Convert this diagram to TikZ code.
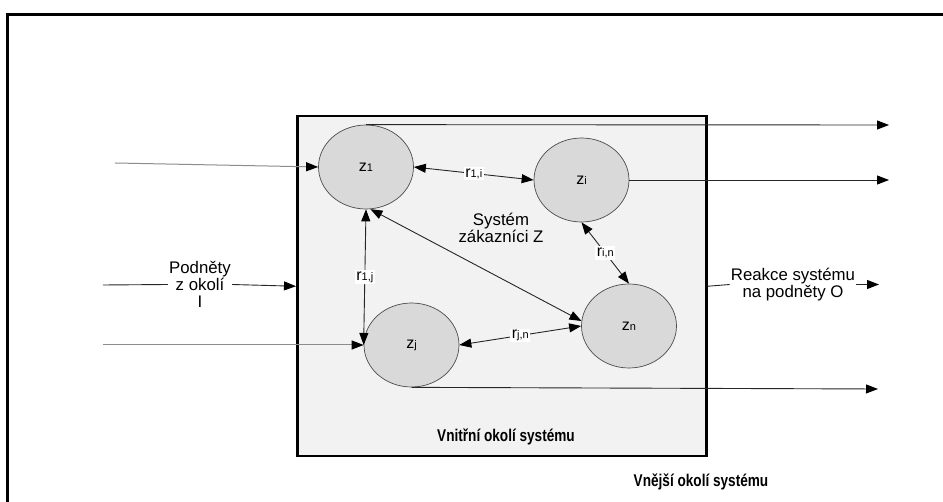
\documentclass[tikz,border=0pt]{standalone}
\usepackage{fontspec}
\setmainfont{Liberation Sans}
\newfontfamily\narrowfont[FakeStretch=0.8]{Liberation Sans}
\usetikzlibrary{arrows.meta,shapes.geometric}
\definecolor{boxfill}{HTML}{F2F2F2}
\definecolor{agentfill}{HTML}{D9D9D9}
\definecolor{feedline}{HTML}{8C8C8C}
\newcommand{\agentlabel}[2]{\fontsize{16}{16}\selectfont #1{\fontsize{11}{11}\selectfont #2}}
\newcommand{\rellabel}[2]{\fontsize{16}{16}\selectfont #1{\fontsize{11}{11}\selectfont #2}}
\begin{document}
\begin{tikzpicture}[x=1pt,y=-1pt,
  tip/.style={-{Triangle[length=12pt,width=9pt,color=black]}},
  bitip/.style={{Triangle[length=12pt,width=9pt,color=black]}-{Triangle[length=12pt,width=9pt,color=black]}},
  conn/.style={draw=black!85, line width=0.9pt},
  feed/.style={draw=feedline, line width=1pt},
  agent/.style={ellipse, draw=black!70, line width=0.7pt, fill=agentfill,
    minimum width=95pt, minimum height=84pt, inner sep=0pt},
  rel/.style={fill=white, inner sep=1.5pt},
  plain/.style={font=\fontsize{16.8}{16.8}\selectfont, align=center, inner sep=1pt},
  boldnote/.style={font=\narrowfont\bfseries\fontsize{17}{17}\selectfont, inner sep=0pt}]
\useasboundingbox (0,0) rectangle (943,502);

% outer surroundings frame (continues past the right and bottom edges)
\draw[line width=3pt] (7,502) -- (7,15) -- (943,15);

% inner surroundings box
\node[draw, line width=2.5pt, fill=boxfill, minimum width=409pt, minimum height=340pt,
  anchor=north west, inner sep=0pt] (inner) at (296,115) {};

% customers
\node[agent] (z1) at (366,167) {\agentlabel{z}{1}};
\node[agent] (zi) at (581.5,180) {\agentlabel{z}{i}};
\node[agent] (zj) at (411.5,345) {\agentlabel{z}{j}};
\node[agent] (zn) at (629,326) {\agentlabel{z}{n}};

\node[plain] (sys) at (501,228) {Systém\\zákazníci Z};
\node[boldnote] (vnitrni) at (506,437) {Vnitřní okolí systému};
\node[boldnote] (vnejsi) at (701,482) {Vnější okolí systému};

% relations between customers
\draw[conn,bitip] (z1.east) -- node[rel] {\rellabel{r}{1,i}} (zi.west);
\draw[conn,bitip] (z1.south) -- node[rel] {\rellabel{r}{1,j}} (zj.west);
\draw[conn,bitip] (z1.-84) -- (zn.174);
\draw[conn,bitip] (zi.south) -- node[rel] {\rellabel{r}{i,n}} (zn.north);
\draw[conn,bitip] (zj.east) -- node[rel] {\rellabel{r}{j,n}} (zn.west);

% stimuli from the surroundings
\coordinate (in1) at (115,163);
\coordinate (in2) at (103,285);
\coordinate (in3) at (103,345);
\node[plain] (podnety) at (200,284.5) {Podněty\\z okolí\\I};
\draw[feed,tip] (in1) -- (z1.west);
\draw[conn] (in2) -- (podnety.west);
\draw[conn,tip] (podnety.east) -- (inner.west);
\draw[feed,tip] (in3) -- (zj.west);

% reactions of the system
\coordinate (out1) at (889,125);
\coordinate (out2) at (889,180);
\coordinate (out3) at (879,284.5);
\coordinate (out4) at (878,389);
\node[plain] (reakce) at (793,284.5) {Reakce systému\\na podněty O};
\draw[conn,tip] (z1.north) -- (out1);
\draw[conn,tip] (zi.east) -- (out2);
\draw[conn] (inner.east) -- (reakce.west);
\draw[conn,tip] (reakce.east) -- (out3);
\draw[conn,tip] (zj.south) -- (out4);
\end{tikzpicture}
\end{document}
